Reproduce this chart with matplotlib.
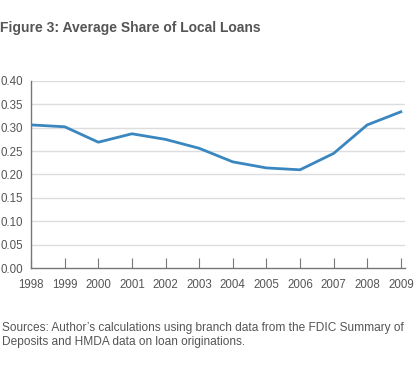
import matplotlib
matplotlib.use('Agg')
import matplotlib.pyplot as plt

plt.rcParams['font.family'] = ['Liberation Sans', 'DejaVu Sans']

years = [1998, 1999, 2000, 2001, 2002, 2003, 2004, 2005, 2006, 2007, 2008, 2009]
share = [0.306, 0.302, 0.269, 0.287, 0.275, 0.256, 0.227, 0.214, 0.210, 0.245, 0.306, 0.334]
yticks = [0.00, 0.05, 0.10, 0.15, 0.20, 0.25, 0.30, 0.35, 0.40]

gray = '#555555'
fig = plt.figure(figsize=(4.2, 3.73), dpi=100)
ax = fig.add_axes([0.074, 0.2815, 0.89, 0.5015])

for v in yticks[1:]:
    ax.axhline(v, color='#dddddd', lw=1, zorder=0)
ax.plot(years, share, color='#3a87c0', lw=2, zorder=3)

ax.set_xlim(1998, 2009.12)
ax.set_ylim(0, 0.40)
ax.set_xticks(years)
ax.set_yticks(yticks)
ax.set_yticklabels([f'{v:.2f}' for v in yticks])
ax.tick_params(axis='x', direction='in', length=7, color='#777777', labelsize=8.3,
               labelcolor=gray, pad=8)
ax.tick_params(axis='y', length=0, labelsize=8.3, labelcolor=gray, pad=6)
for s in ['top', 'right']:
    ax.spines[s].set_visible(False)
for s in ['left', 'bottom']:
    ax.spines[s].set_color('#777777')
    ax.spines[s].set_linewidth(1)

fig.text(0.0, 0.925, 'Figure 3: Average Share of Local Loans', fontsize=10,
         fontweight='bold', color=gray, va='center')
fig.text(0.005, 0.102, 'Sources: Author\u2019s calculations using branch data from the FDIC Summary of\nDeposits and HMDA data on loan originations.',
         fontsize=8.6, color=gray, va='center', linespacing=1.2)

fig.savefig('out.png', dpi=100)
